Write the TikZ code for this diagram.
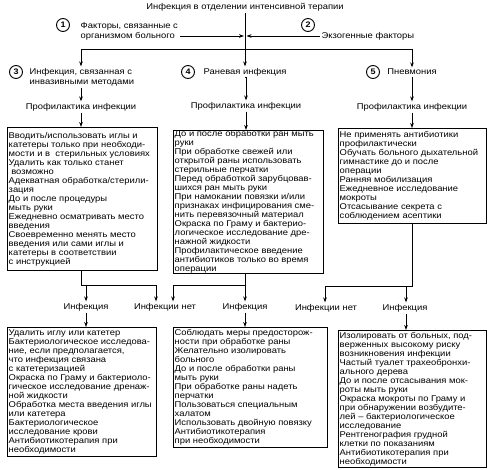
\documentclass[tikz,border=0pt]{standalone}
\usepackage{fontspec}
\setmainfont{Liberation Sans}[FakeStretch=1.12]
\usetikzlibrary{arrows.meta}
\tikzset{
  frame/.style={draw, line width=1.1pt, anchor=north west, inner sep=0pt},
  btext/.style={anchor=west, align=left, inner sep=0pt, font=\fontsize{8.4}{9.0}\selectfont},
  lbl/.style={inner sep=1.5pt, align=left, font=\fontsize{8.4}{10}\selectfont},
  num/.style={circle, draw, line width=0.9pt, minimum size=13pt, inner sep=0pt, font=\bfseries\fontsize{8}{8}\selectfont},
  arr/.style={-{Stealth[length=5pt,width=3.6pt]}, line width=0.8pt},
  ln/.style={line width=0.8pt}
}
\begin{document}
\begin{tikzpicture}[x=1pt,y=-1pt]
\useasboundingbox (0,0) rectangle (488,470);
% title and factors
\node[lbl] (title) at (245,7) {Инфекция в отделении интенсивной терапии};
\node[num] (n1) at (63,25) {1};
\node[lbl, anchor=west] (f1) at (79,31) {Факторы, связанные с\\организмом больного};
\node[num] (n2) at (308,25) {2};
\node[lbl, anchor=west] (f2) at (320,36) {Экзогенные факторы};
\coordinate (j) at (245,36);
% level 2 labels
\node[num] (n3) at (16,72) {3};
\node[lbl, anchor=west] (i3) at (28,77) {Инфекция, связанная с\\инвазивными методами};
\node[num] (n4) at (188,72) {4};
\node[lbl] (r4) at (245,72) {Раневая инфекция};
\node[num] (n5) at (373,72) {5};
\node[lbl] (p5) at (412,72) {Пневмония};
\coordinate (jt) at (245,49);
\coordinate (jl) at (81,49);
\coordinate (jr) at (412,49);
% prophylaxis labels
\node[lbl] (pf3) at (81,107) {Профилактика инфекции};
\node[lbl] (pf4) at (246,106) {Профилактика инфекции};
\node[lbl] (pf5) at (412,107) {Профилактика инфекции};
% upper boxes
\node[frame, minimum width=150pt, minimum height=143pt] (b3) at (7,127) {};
\node[btext] (b3t) at ([xshift=1.5pt]b3.west) {Вводить/использовать иглы и\\катетеры только при необходи-\\мости и в\ \ стерильных условиях\\Удалить как только станет\\\ возможно\\Адекватная обработка/стерили-\\зация\\До и после процедуры\\мыть руки\\Ежедневно осматривать место\\введения\\Своевременно менять место\\введения или сами иглы и\\катетеры в соответствии\\с инструкцией};
\node[frame, minimum width=150pt, minimum height=143pt] (b4) at (173,130) {};
\node[btext] (b4t) at ([xshift=1.5pt]b4.west) {До и после обработки ран мыть\\руки\\При обработке свежей или\\открытой раны использовать\\стерильные перчатки\\Перед обработкой зарубцовав-\\шихся ран мыть руки\\При намокании повязки и/или\\признаках инфицирования сме-\\нить перевязочный материал\\Окраска по Граму и бактерио-\\логическое исследование дре-\\нажной жидкости\\Профилактическое введение\\антибиотиков только во время\\операции};
\node[frame, minimum width=148pt, minimum height=95pt] (b5) at (338,128) {};
\node[btext] (b5t) at ([xshift=1.5pt]b5.west) {Не применять антибиотики\\профилактически\\Обучать больного дыхательной\\гимнастике до и после\\операции\\Ранняя мобилизация\\Ежедневное исследование\\мокроты\\Отсасывание секрета с\\соблюдением асептики};
% outcome labels
\coordinate (k3) at (81,285);
\coordinate (k3a) at (86,285);
\coordinate (k3b) at (156,285);
\coordinate (k4) at (245,285);
\coordinate (k4a) at (173,285);
\coordinate (k5) at (412,286);
\coordinate (k5a) at (325,286);
\coordinate (k5b) at (406,286);
\node[lbl] (inf3) at (86,307) {Инфекция};
\node[lbl] (no34) at (165,307) {Инфекции нет};
\node[lbl] (inf4) at (245,307) {Инфекция};
\node[lbl] (no5) at (326,308) {Инфекции нет};
\node[lbl] (inf5) at (405,308) {Инфекция};
% lower boxes
\node[frame, minimum width=149pt, minimum height=129pt] (bb3) at (7,327) {};
\node[btext] (bb3t) at ([xshift=1.5pt]bb3.west) {Удалить иглу или катетер\\Бактериологическое исследова-\\ние, если предполагается,\\что инфекция связана\\с катетеризацией\\Окраска по Граму и бактериоло-\\гическое исследование дренаж-\\ной жидкости\\Обработка места введения иглы\\или катетера\\Бактериологическое\\исследование крови\\Антибиотикотерапия при\\необходимости};
\node[frame, minimum width=154pt, minimum height=120pt] (bb4) at (173,327) {};
\node[btext] (bb4t) at ([xshift=1.5pt]bb4.west) {Соблюдать меры предосторож-\\ности при обработке раны\\Желательно изолировать\\больного\\До и после обработки раны\\мыть руки\\При обработке раны надеть\\перчатки\\Пользоваться специальным\\халатом\\Использовать двойную повязку\\Антибиотикотерапия\\при необходимости};
\node[frame, minimum width=148pt, minimum height=137pt] (bb5) at (338,330) {};
\node[btext] (bb5t) at ([xshift=1.5pt]bb5.west) {Изолировать от больных, под-\\верженных высокому риску\\возникновения инфекции\\Частый туалет трахеобронхи-\\ального дерева\\До и после отсасывания мок-\\роты мыть руки\\Окраска мокроты по Граму и\\при обнаружении возбудите-\\лей – бактериологическое\\исследование\\Рентгенография грудной\\клетки по показаниям\\Антибиотикотерапия при\\необходимости};
% connectors top
\draw[arr] (title.south) -- (r4.north);
\draw[arr] (f1.east |- j) -- ([xshift=-1pt]j);
\draw[arr] (f2.west) -- ([xshift=1.5pt]j);
\draw[ln] (jl) -- (jr);
\draw[arr] (jl) -- (jl |- i3.north);
\draw[arr] (jr) -- (p5.north);
\draw[arr] (i3.south -| pf3) -- (pf3.north);
\draw[arr] (r4.south) -- (r4.south -| pf4) -- (pf4.north);
\draw[arr] (p5.south) -- (pf5.north);
\draw[arr] (pf3.south) -- (pf3.south |- b3.north);
\draw[arr] (pf4.south) -- (pf4.south |- b4.north);
\draw[arr] (pf5.south) -- (pf5.south |- b5.north);
% connectors bottom
\draw[ln] (b3.south -| k3) -- (k3) -- (k3b);
\draw[arr] (k3a) -- (inf3.north);
\draw[arr] (k3b) -- (k3b |- no34.north);
\draw[ln] (b4.south -| k4) -- (k4) -- (k4a);
\draw[arr] (k4a) -- (k4a |- no34.north);
\draw[arr] (k4) -- (inf4.north);
\draw[ln] (b5.south -| k5) -- (k5) -- (k5a);
\draw[arr] (k5a) -- (no5.north -| k5a);
\draw[arr] (k5b) -- (inf5.north -| k5b);
\draw[arr] (inf3.south) -- (inf3.south |- bb3.north);
\draw[arr] (inf4.south) -- (inf4.south |- bb4.north);
\draw[arr] (inf5.south -| k5b) -- (k5b |- bb5.north);
\end{tikzpicture}
\end{document}
